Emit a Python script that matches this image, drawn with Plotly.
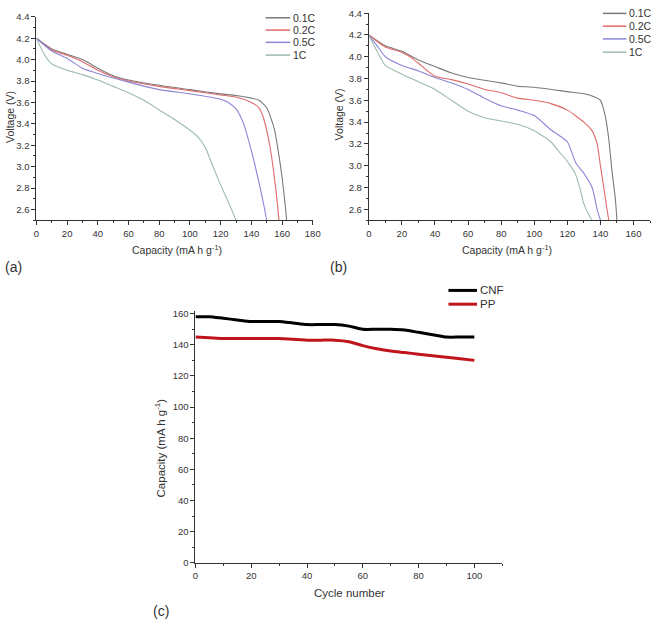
import plotly.graph_objects as go

# ---------- Panel (a) data ----------
a_01_x = [0, 10, 20, 30, 40, 50, 60, 80, 100, 120, 130, 140, 145, 150, 155, 158, 160, 162, 163]
a_01_y = [4.2, 4.1, 4.05, 4.0, 3.92, 3.85, 3.81, 3.76, 3.72, 3.68, 3.665, 3.64, 3.62, 3.55, 3.35, 3.1, 2.9, 2.65, 2.5]
a_02_x = [0, 10, 20, 30, 40, 50, 60, 80, 100, 120, 130, 140, 145, 148, 152, 155, 157, 158]
a_02_y = [4.2, 4.09, 4.04, 3.98, 3.9, 3.84, 3.8, 3.75, 3.71, 3.67, 3.65, 3.6, 3.55, 3.45, 3.2, 2.9, 2.65, 2.5]
a_05_x = [0, 10, 20, 30, 40, 60, 80, 100, 120, 125, 130, 135, 140, 145, 148, 150]
a_05_y = [4.2, 4.08, 4.01, 3.92, 3.87, 3.79, 3.72, 3.68, 3.63, 3.6, 3.54, 3.4, 3.15, 2.85, 2.65, 2.5]
a_1_x = [0, 5, 10, 20, 30, 40, 50, 60, 70, 80, 90, 100, 105, 110, 115, 120, 125, 130]
a_1_y = [4.2, 4.05, 3.96, 3.9, 3.86, 3.81, 3.75, 3.69, 3.62, 3.53, 3.44, 3.34, 3.28, 3.18, 3.0, 2.83, 2.67, 2.5]

# ---------- Panel (b) data ----------
b_01_x = [0, 10, 20, 30, 40, 50, 60, 80, 90, 100, 120, 130, 135, 140, 143, 145, 147, 149, 150]
b_01_y = [4.2, 4.1, 4.05, 3.97, 3.91, 3.85, 3.81, 3.76, 3.73, 3.72, 3.68, 3.66, 3.64, 3.6, 3.45, 3.25, 2.95, 2.7, 2.5]
b_02_x = [0, 10, 20, 25, 30, 40, 50, 60, 70, 80, 90, 100, 110, 120, 130, 135, 138, 140, 142, 144, 145]
b_02_y = [4.2, 4.09, 4.04, 4.0, 3.94, 3.82, 3.79, 3.75, 3.7, 3.67, 3.62, 3.6, 3.57, 3.51, 3.4, 3.32, 3.2, 3.0, 2.8, 2.6, 2.5]
b_05_x = [0, 5, 10, 20, 30, 40, 50, 60, 70, 80, 90, 100, 110, 120, 125, 130, 135, 138, 140]
b_05_y = [4.2, 4.1, 4.0, 3.92, 3.87, 3.81, 3.76, 3.7, 3.62, 3.55, 3.51, 3.46, 3.33, 3.22, 3.03, 2.93, 2.8, 2.6, 2.5]
b_1_x = [0, 5, 10, 20, 30, 40, 50, 60, 70, 80, 90, 100, 110, 115, 120, 125, 128, 130, 133, 135]
b_1_y = [4.2, 4.05, 3.92, 3.84, 3.77, 3.7, 3.6, 3.5, 3.44, 3.41, 3.38, 3.32, 3.22, 3.13, 3.04, 2.92, 2.77, 2.65, 2.55, 2.5]

# ---------- Panel (c) data ----------
cycles = [0, 5, 10, 15, 20, 25, 30, 35, 40, 45, 50, 55, 60, 65, 70, 75, 80, 85, 90, 95, 100]
cnf_cap = [158, 158, 157, 156, 155, 155, 155, 154, 153, 153, 153, 152, 150, 150, 150, 149.5, 148, 146.5, 145, 145, 145]
pp_cap = [145, 144.5, 144, 144, 144, 144, 144, 143.5, 143, 143, 143, 142, 139.5, 137.5, 136, 135, 134, 133, 132, 131, 130]

rate_names = ["0.1C", "0.2C", "0.5C", "1C"]
rate_colors = ["#7a7a7a", "#e06a6a", "#8a86d6", "#9dbcae"]
cyc_names = ["CNF", "PP"]
cyc_colors = ["#000000", "#c0141c"]

FONT = "Liberation Sans, Arial, sans-serif"
TXT = "#333333"
W, H = 661, 627

fig = go.Figure()

a_sets = [(a_01_x, a_01_y), (a_02_x, a_02_y), (a_05_x, a_05_y), (a_1_x, a_1_y)]
b_sets = [(b_01_x, b_01_y), (b_02_x, b_02_y), (b_05_x, b_05_y), (b_1_x, b_1_y)]
for (x, y), n, c in zip(a_sets, rate_names, rate_colors):
    fig.add_trace(go.Scatter(x=x, y=y, mode="lines", name=n, showlegend=False,
                             line=dict(color=c, width=1.1, shape="spline", smoothing=0.6),
                             xaxis="x", yaxis="y"))
for (x, y), n, c in zip(b_sets, rate_names, rate_colors):
    fig.add_trace(go.Scatter(x=x, y=y, mode="lines", name=n, showlegend=False,
                             line=dict(color=c, width=1.1, shape="spline", smoothing=0.6),
                             xaxis="x2", yaxis="y2"))
for yv, n, c in zip([cnf_cap, pp_cap], cyc_names, cyc_colors):
    fig.add_trace(go.Scatter(x=cycles, y=yv, mode="lines", name=n, showlegend=False,
                             line=dict(color=c, width=3, shape="spline", smoothing=0.8),
                             xaxis="x3", yaxis="y3"))


def px_x(p):
    return p / W


def px_y(p):
    return 1 - p / H


def axis(domain, rng, dtick, minor_dtick, anchor, tick0=None, fmt=None):
    d = dict(domain=domain, range=rng, dtick=dtick, anchor=anchor,
             ticks="outside", ticklen=4, tickwidth=1, tickcolor=TXT,
             showline=True, linecolor=TXT, linewidth=1,
             showgrid=False, zeroline=False,
             tickfont=dict(family=FONT, size=9.5, color=TXT),
             minor=dict(ticks="outside", ticklen=2, tickcolor=TXT, dtick=minor_dtick))
    if tick0 is not None:
        d["tick0"] = tick0
    if fmt:
        d["tickformat"] = fmt
    return d


layout = dict(
    width=W, height=H, margin=dict(l=0, r=0, t=0, b=0),
    paper_bgcolor="white", plot_bgcolor="white", showlegend=False,
    xaxis=axis([px_x(34), px_x(315)], [0, 180], 20, 10, "y"),
    yaxis=axis([px_y(218), px_y(11)], [2.5, 4.4], 0.2, 0.1, "x", tick0=2.6, fmt=".1f"),
    xaxis2=axis([px_x(372), px_x(658)], [0, 170], 20, 10, "y2"),
    yaxis2=axis([px_y(218), px_y(7.3)], [2.5, 4.4], 0.2, 0.1, "x2", tick0=2.6, fmt=".1f"),
    xaxis3=axis([px_x(195.7), px_x(507.7)], [0, 110], 20, 10, "y3"),
    yaxis3=axis([px_y(566.7), px_y(310)], [0, 162], 20, 10, "x3"),
)
fig.update_layout(**layout)

ann = []
shapes = []


def text(x, y, s, size=10.5, angle=0, xanchor="center"):
    ann.append(dict(x=px_x(x), y=px_y(y), xref="paper", yref="paper", text=s,
                    showarrow=False, textangle=angle, xanchor=xanchor, yanchor="middle",
                    font=dict(family=FONT, size=size, color=TXT)))


cap_title = "Capacity (mA h g<sup>-1</sup>)"
text(177, 248, cap_title)
text(7, 113, "Voltage (V)", angle=-90)
text(513, 248, cap_title)
text(342, 110, "Voltage (V)", angle=-90)
text(352, 597, "Cycle number", size=11.5)
text(160, 450, cap_title, size=11.5, angle=-90)
text(0, 266, "(a)", size=14, xanchor="left")
text(331, 266, "(b)", size=14, xanchor="left")
text(151, 616, "(c)", size=14, xanchor="left")


def legend(x0, x1, ys, names, colors, width, size=10.5):
    for yy, n, c in zip(ys, names, colors):
        shapes.append(dict(type="line", xref="paper", yref="paper",
                           x0=px_x(x0), x1=px_x(x1), y0=px_y(yy), y1=px_y(yy),
                           line=dict(color=c, width=width)))
        text(x1 + 1, yy, n, size=size, xanchor="left")


legend(267, 292, [12, 24.5, 37, 50], rate_names, rate_colors, 1.5)
legend(610, 634, [7.5, 20.5, 33.5, 47], rate_names, rate_colors, 1.5)
legend(453, 482, [289.5, 303.5], cyc_names, cyc_colors, 3, size=11.5)

fig.update_layout(annotations=ann, shapes=shapes)
fig.write_html("out.html", config={"displayModeBar": False},
               post_script="document.body.style.margin='0';document.body.style.overflow='hidden';")
